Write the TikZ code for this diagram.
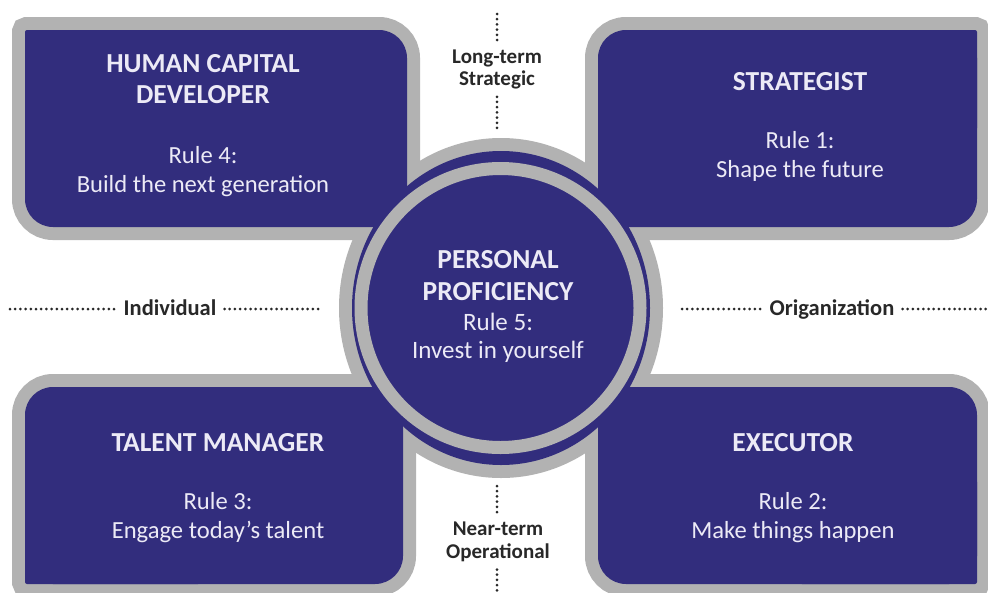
\documentclass[tikz,border=0pt]{standalone}
\usepackage{fontspec}
\setmainfont{Carlito}
\definecolor{blkpurple}{RGB}{50,45,125}
\definecolor{blkgray}{RGB}{178,178,178}
\definecolor{blktext}{RGB}{236,234,246}
\definecolor{lbltext}{RGB}{40,40,40}
\begin{document}
\begin{tikzpicture}[x=1pt,y=-1pt,
  union/.style={line width=26pt},
  title/.style={anchor=base, inner sep=0pt, text=blktext, font=\fontsize{27.5}{30}\selectfont\bfseries},
  sub/.style={anchor=base, inner sep=0pt, text=blktext, font=\fontsize{24.6}{28}\selectfont},
  ctitle/.style={anchor=base, inner sep=0pt, text=blktext, font=\fontsize{27.5}{30}\selectfont\bfseries},
  csub/.style={anchor=base, inner sep=0pt, text=blktext, font=\fontsize{25}{28}\selectfont},
  lbl/.style={anchor=base, inner sep=0pt, text=lbltext, font=\fontsize{21}{24}\selectfont\bfseries},
  hlbl/.style={anchor=base, inner sep=0pt, text=lbltext, font=\fontsize{22.5}{25}\selectfont\bfseries},
  dotline/.style={draw=lbltext, line width=3pt, line cap=round, dash pattern=on 0pt off 5.2pt}
]
\useasboundingbox (0,0) rectangle (988,592);
\clip (0,0) rectangle (988,592);
\fill[white] (0,0) rectangle (988,592);

% union of shapes: gray stroke first, purple fill on top
\draw[blkgray, union]
  (25,30) [rounded corners=28pt] rectangle (407,227)
  (598,30) [rounded corners=28pt] rectangle (977,227)
  (25,387) [rounded corners=28pt] rectangle (403,584)
  (598,387) [rounded corners=28pt] rectangle (977,584);
\draw[blkgray, union]
  (25,30) [rounded corners=2pt] rectangle (200,130)
  (800,30) [rounded corners=2pt] rectangle (977,130)
  (25,480) [rounded corners=2pt] rectangle (200,584)
  (800,480) [rounded corners=2pt] rectangle (977,584);
\draw[blkgray, union] (501,308) ellipse [x radius=149pt, y radius=157pt];
\fill[blkpurple]
  (25,30) [rounded corners=28pt] rectangle (407,227)
  (598,30) [rounded corners=28pt] rectangle (977,227)
  (25,387) [rounded corners=28pt] rectangle (403,584)
  (598,387) [rounded corners=28pt] rectangle (977,584);
\fill[blkpurple]
  (25,30) [rounded corners=2pt] rectangle (200,130)
  (800,30) [rounded corners=2pt] rectangle (977,130)
  (25,480) [rounded corners=2pt] rectangle (200,584)
  (800,480) [rounded corners=2pt] rectangle (977,584);
\fill[blkpurple] (501,308) ellipse [x radius=149pt, y radius=157pt];

% inner ring
\draw[blkgray, line width=13pt] (500.5,308) circle [radius=139.5pt];

% block texts
\node[title] (hcd1) at (203,72) {HUMAN CAPITAL};
\node[title] (hcd2) at (203,103) {DEVELOPER};
\node[sub] (hcd3) at (203,163) {Rule 4:};
\node[sub] (hcd4) at (203,192) {Build the next generation};

\node[title] (str1) at (800,90) {STRATEGIST};
\node[sub] (str2) at (800,148) {Rule 1:};
\node[sub] (str3) at (800,177) {Shape the future};

\node[title] (tal1) at (218,451) {TALENT MANAGER};
\node[sub] (tal2) at (218,509) {Rule 3:};
\node[sub] (tal3) at (218,538) {Engage today’s talent};

\node[title] (exe1) at (793,451) {EXECUTOR};
\node[sub] (exe2) at (793,509) {Rule 2:};
\node[sub] (exe3) at (793,538) {Make things happen};

\node[ctitle] (per1) at (498,268) {PERSONAL};
\node[ctitle] (per2) at (498,300) {PROFICIENCY};
\node[csub] (per3) at (498,330) {Rule 5:};
\node[csub] (per4) at (498,358) {Invest in yourself};

% axis labels
\node[lbl] (lt1) at (497,63) {Long-term};
\node[lbl] (lt2) at (497,85) {Strategic};
\node[lbl] (nt1) at (498,535) {Near-term};
\node[lbl] (nt2) at (498,558) {Operational};
\node[hlbl] (ind) at (170,315) {Individual};
\node[hlbl] (org) at (832,315) {Origanization};

\coordinate (vt0) at (497,14);
\coordinate (vt1) at (497,129);
\coordinate (vb0) at (497,486);
\coordinate (vb1) at (497,592);
\coordinate (hl0) at (10,309);
\coordinate (hl1) at (322,309);
\coordinate (hr0) at (682,309);
\coordinate (hr1) at (990,309);

\draw[dotline] (vt0) -- ([yshift=5pt]vt0 |- lt1.north);
\draw[dotline] ([yshift=-8pt]vt0 |- lt2.south) -- (vt1);
\draw[dotline] (vb0) -- ([yshift=5pt]vb0 |- nt1.north);
\draw[dotline] ([yshift=-8pt]vb0 |- nt2.south) -- (vb1);
\draw[dotline] (hl0) -- ([xshift=-8pt]ind.west |- hl0);
\draw[dotline] ([xshift=8pt]ind.east |- hl0) -- (hl1);
\draw[dotline] (hr0) -- ([xshift=-8pt]org.west |- hr0);
\draw[dotline] ([xshift=8pt]org.east |- hr0) -- (hr1);
\end{tikzpicture}
\end{document}
